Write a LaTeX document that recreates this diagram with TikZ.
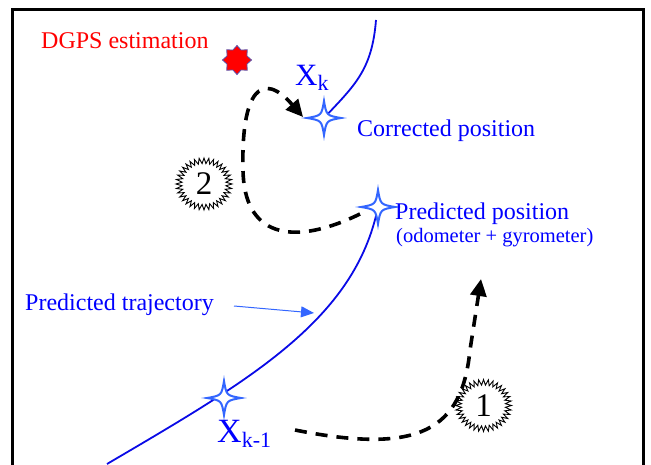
\documentclass[tikz,border=0pt]{standalone}
\usepackage{fontspec}
\setmainfont{Liberation Serif}
\usetikzlibrary{arrows.meta,shapes.geometric}
\definecolor{tblue}{RGB}{0,0,255}
\definecolor{sblue}{RGB}{51,102,255}
\definecolor{cblue}{RGB}{10,10,230}
\definecolor{sedge}{RGB}{90,80,170}
\begin{document}
\begin{tikzpicture}[x=1pt,y=-1pt,
  lbl/.style={inner sep=0pt, anchor=base west, font=\fontsize{24}{28}\selectfont},
  dashpath/.style={line width=3.6pt, dash pattern=on 12pt off 9pt, -{Triangle[length=17pt,width=16pt]}},
  traj/.style={cblue, line width=1.8pt},
  sparkle/.pic={\draw[sblue, line width=2pt, fill=white] (0,-17) .. controls (2.5,-2.5) .. (17,0) .. controls (2.5,2.5) .. (0,17) .. controls (-2.5,2.5) .. (-17,0) .. controls (-2.5,-2.5) .. cycle;},
  burst/.pic={\draw[line width=0.9pt, yscale=0.93] (0:28) \foreach \i in {1,...,71}{ -- (\i*5:{28-6*mod(\i,2)})} -- cycle;},
  num/.style={inner sep=0pt, font=\fontsize{33}{36}\selectfont}
]
\useasboundingbox (0,0) rectangle (651,465);
% frame
\draw[line width=3pt] (12.2,467) -- (12.2,9.5) -- (643.7,9.5) -- (643.7,467);

% key positions
\coordinate (ck) at (324,118);
\coordinate (cp) at (378,207);
\coordinate (ckm) at (224,398);
\coordinate (top) at (376,20);
\coordinate (bl) at (107,464);
\coordinate (d2s) at (360,214);
\coordinate (d2e) at (303,117);
\coordinate (d1s) at (295,430);
\coordinate (d1m) at (470,350);
\coordinate (d1e) at (481,279);
\coordinate (ta) at (234,306);
\coordinate (tb) at (314,313);

% trajectories
\draw[traj] (top) .. controls (372,70) and (355,85) .. (ck);
\draw[traj] (bl) .. controls (250,380) and (355,320) .. (cp);

% bursts with numbers
\node[num] (n2) at (204,184) {2};
\pic at (n2) {burst};
\node[num] (n1) at (483.5,405.5) {1};
\pic at (n1) {burst};

% dashed arrows
\draw[dashpath] (d2s) .. controls (290,248) and (244,235) .. (243,170) .. controls (241,90) and (262,70) .. (d2e);
\draw[dashpath] (d1s) .. controls (420,455) and (462,430) .. (d1m) -- (d1e);

% sparkles
\pic at (ck) {sparkle};
\pic at (cp) {sparkle};
\pic at (ckm) {sparkle};

% DGPS star
\node[star, star points=8, star point ratio=1.35, fill=red, draw=sedge, line width=0.8pt, minimum size=29pt, inner sep=0pt] (dgps) at (237,60) {};

% labels
\node[lbl, red] (dgl) at (41,49) {DGPS estimation};
\node[lbl, tblue] (xk) at (295,86) {\fontsize{31}{34}\selectfont X\fontsize{22}{24}\selectfont\raisebox{-5pt}{k}};
\node[lbl, tblue] (cpl) at (357,137) {Corrected position};
\node[lbl, tblue] (ppl) at (395,220) {Predicted position};
\node[lbl, tblue, font=\fontsize{20.5}{24}\selectfont] (odo) at (396,243) {(odometer + gyrometer)};
\node[lbl, tblue] (ptl) at (25,311) {Predicted trajectory};
\node[lbl, tblue] (xkm) at (217,442) {\fontsize{34}{36}\selectfont X\fontsize{22}{24}\selectfont\raisebox{-5pt}{k-1}};

% pointer arrow
\draw[sblue, line width=1pt, -{Triangle[length=13pt,width=11pt]}] (ta) -- (tb);
\end{tikzpicture}
\end{document}
